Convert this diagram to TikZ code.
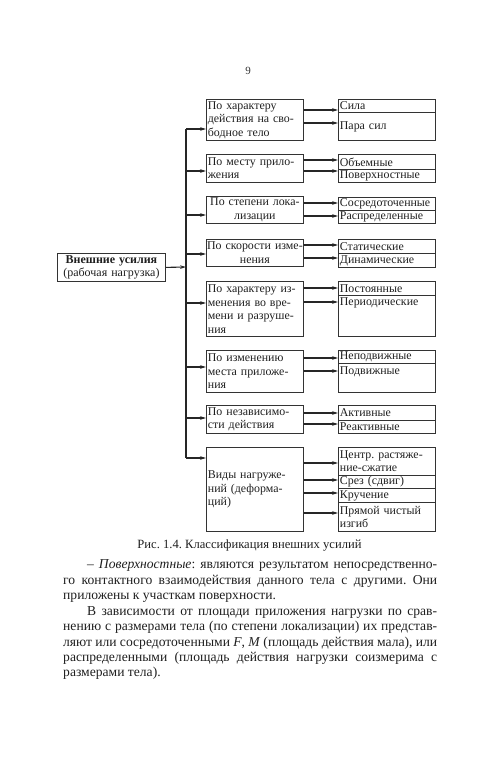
\documentclass[tikz,border=0pt]{standalone}
\usepackage{fontspec}
\setmainfont{Liberation Serif}
\usetikzlibrary{arrows.meta}
\begin{document}
\frenchspacing
\begin{tikzpicture}[x=1pt,y=-1pt,
  lbox/.style={draw=black!80, line width=0.8pt, anchor=north west, inner xsep=1.5pt, inner ysep=0pt,
    text width=94pt, font=\fontsize{11.9}{13.5}\selectfont\frenchspacing, align=left, text=black!88},
  cbox/.style={lbox, align=center},
  rbox/.style={lbox},
  conn/.style={draw=black!85, line width=1.1pt, -{Stealth[length=6pt,width=3.6pt]}},
  trunk/.style={draw=black!85, line width=1.1pt},
  bodyline/.style={anchor=base west, inner sep=0pt, font=\fontsize{13.6}{15.5}\selectfont\frenchspacing, text=black!88},
  captxt/.style={anchor=base, inner sep=0pt, font=\fontsize{12.6}{14}\selectfont\frenchspacing, text=black!88},
  pagenum/.style={anchor=base, inner sep=0pt, font=\fontsize{11}{13}\selectfont, text=black!80}
]
\useasboundingbox (0,0) rectangle (500,781);

\node[pagenum] (pg) at (248,75) {9};

% main box
\node[draw=black!80, line width=0.8pt, anchor=north west, inner xsep=2pt, inner ysep=0pt,
  text width=104pt, minimum height=28pt, align=center, font=\fontsize{12}{13.5}\selectfont, text=black!88]
  (main) at (57,253) {\textbf{Внешние усилия}\\(рабочая нагрузка)};

% left boxes
\node[lbox, minimum height=41pt] (L1) at (206,99) {По характеру\\действия на сво-\\бодное тело};
\node[lbox, minimum height=28pt] (L2) at (206,154) {По месту прило-\\жения};
\node[cbox, minimum height=27pt] (L3) at (206,196) {По степени лока-\\лизации};
\node[cbox, minimum height=27pt, inner xsep=0.3pt, text width=96.4pt] (L4) at (206,239) {По скорости изме-\\нения};
\node[lbox, minimum height=55pt] (L5) at (206,281) {По характеру из-\\менения во вре-\\мени и разруше-\\ния};
\node[lbox, minimum height=42pt] (L6) at (206,350) {По изменению\\места приложе-\\ния};
\node[lbox, minimum height=28pt] (L7) at (206,405) {По независимо-\\сти действия};
\node[lbox, minimum height=84pt] (L8) at (206,447) {Виды нагруже-\\ний (деформа-\\ций)};

% right boxes
\node[rbox, minimum height=13pt] (R1a) at (338,99) {Сила};
\node[rbox, minimum height=28pt] (R1b) at (338,112) {Пара сил};
\node[rbox, minimum height=15pt] (R2a) at (338,154) {Объемные};
\node[rbox, minimum height=13pt] (R2b) at (338,169) {Поверхностные};
\node[rbox, minimum height=13pt] (R3a) at (338,197) {Сосредоточенные};
\node[rbox, minimum height=13pt] (R3b) at (338,210) {Распределенные};
\node[rbox, minimum height=14pt] (R4a) at (338,239) {Статические};
\node[rbox, minimum height=14pt] (R4b) at (338,253) {Динамические};
\node[rbox, minimum height=14pt] (R5a) at (338,281) {Постоянные};
\node[rbox, text height=10pt, text depth=31pt] (R5b) at (338,295) {Периодические};
\node[rbox, minimum height=13pt] (R6a) at (338,350) {Неподвижные};
\node[rbox, text height=11pt, text depth=18pt] (R6b) at (338,363) {Подвижные};
\node[rbox, minimum height=15pt] (R7a) at (338,405) {Активные};
\node[rbox, minimum height=13pt] (R7b) at (338,420) {Реактивные};
\node[rbox, minimum height=28pt] (R8a) at (338,447) {Центр. растяже-\\ние-сжатие};
\node[rbox, minimum height=13pt] (R8b) at (338,475) {Срез (сдвиг)};
\node[rbox, minimum height=14pt] (R8c) at (338,488) {Кручение};
\node[rbox, minimum height=29pt] (R8d) at (338,502) {Прямой чистый\\изгиб};

% trunk
\coordinate (t1) at (186,129);
\coordinate (t2) at (186,171);
\coordinate (t3) at (186,215);
\coordinate (t4) at (186,254);
\coordinate (t5) at (186,303);
\coordinate (t6) at (186,367);
\coordinate (t7) at (186,418);
\coordinate (t8) at (186,458);
\coordinate (tm) at (186,267);
\draw[trunk] (t1) -- (t8);
\draw[conn] (main.east) -- (tm);
\foreach \i in {1,...,8} { \draw[conn] (t\i) -- (t\i -| L\i.west); }

% box to categories
\draw[conn] (L1.east |- 0,110) -- (R1a.west |- 0,110);
\draw[conn] (L1.east |- 0,123) -- (R1b.west |- 0,123);
\draw[conn] (L2.east |- 0,160) -- (R2a.west |- 0,160);
\draw[conn] (L2.east |- 0,171) -- (R2b.west |- 0,171);
\draw[conn] (L3.east |- 0,203) -- (R3a.west |- 0,203);
\draw[conn] (L3.east |- 0,216) -- (R3b.west |- 0,216);
\draw[conn] (L4.east |- 0,245) -- (R4a.west |- 0,245);
\draw[conn] (L4.east |- 0,258) -- (R4b.west |- 0,258);
\draw[conn] (L5.east |- 0,288) -- (R5a.west |- 0,288);
\draw[conn] (L5.east |- 0,302) -- (R5b.west |- 0,302);
\draw[conn] (L6.east |- 0,358) -- (R6a.west |- 0,358);
\draw[conn] (L6.east |- 0,371) -- (R6b.west |- 0,371);
\draw[conn] (L7.east |- 0,413) -- (R7a.west |- 0,413);
\draw[conn] (L7.east |- 0,424) -- (R7b.west |- 0,424);
\draw[conn] (L8.east |- 0,463) -- (R8a.west |- 0,463);
\draw[conn] (L8.east |- 0,480) -- (R8b.west |- 0,480);
\draw[conn] (L8.east |- 0,493) -- (R8c.west |- 0,493);
\draw[conn] (L8.east |- 0,513) -- (R8d.west |- 0,513);

% caption
\node[captxt] (cap) at (249.5,548) {Рис. 1.4. Классификация внешних усилий};

% body text
\node[bodyline] (b1) at (63,568) {\hbox to 374pt{\hspace*{24pt}– \textit{Поверхностные}: являются результатом непосредственно-}};
\node[bodyline] (b2) at (63,584) {\hbox to 374pt{го контактного взаимодействия данного тела с другими. Они}};
\node[bodyline] (b3) at (63,599) {приложены к участкам поверхности.};
\node[bodyline] (b4) at (63,615) {\hbox to 374pt{\hspace*{24pt}В зависимости от площади приложения нагрузки по срав-}};
\node[bodyline] (b5) at (63,630) {\hbox to 374pt{нению с размерами тела (по степени локализации) их представ-}};
\node[bodyline] (b6) at (63,646) {\hbox to 374pt{ляют или сосредоточенными \textit{F}, \textit{M} (площадь действия мала), или}};
\node[bodyline] (b7) at (63,661) {\hbox to 374pt{распределенными (площадь действия нагрузки соизмерима с}};
\node[bodyline] (b8) at (63,676) {размерами тела).};
\end{tikzpicture}
\end{document}
